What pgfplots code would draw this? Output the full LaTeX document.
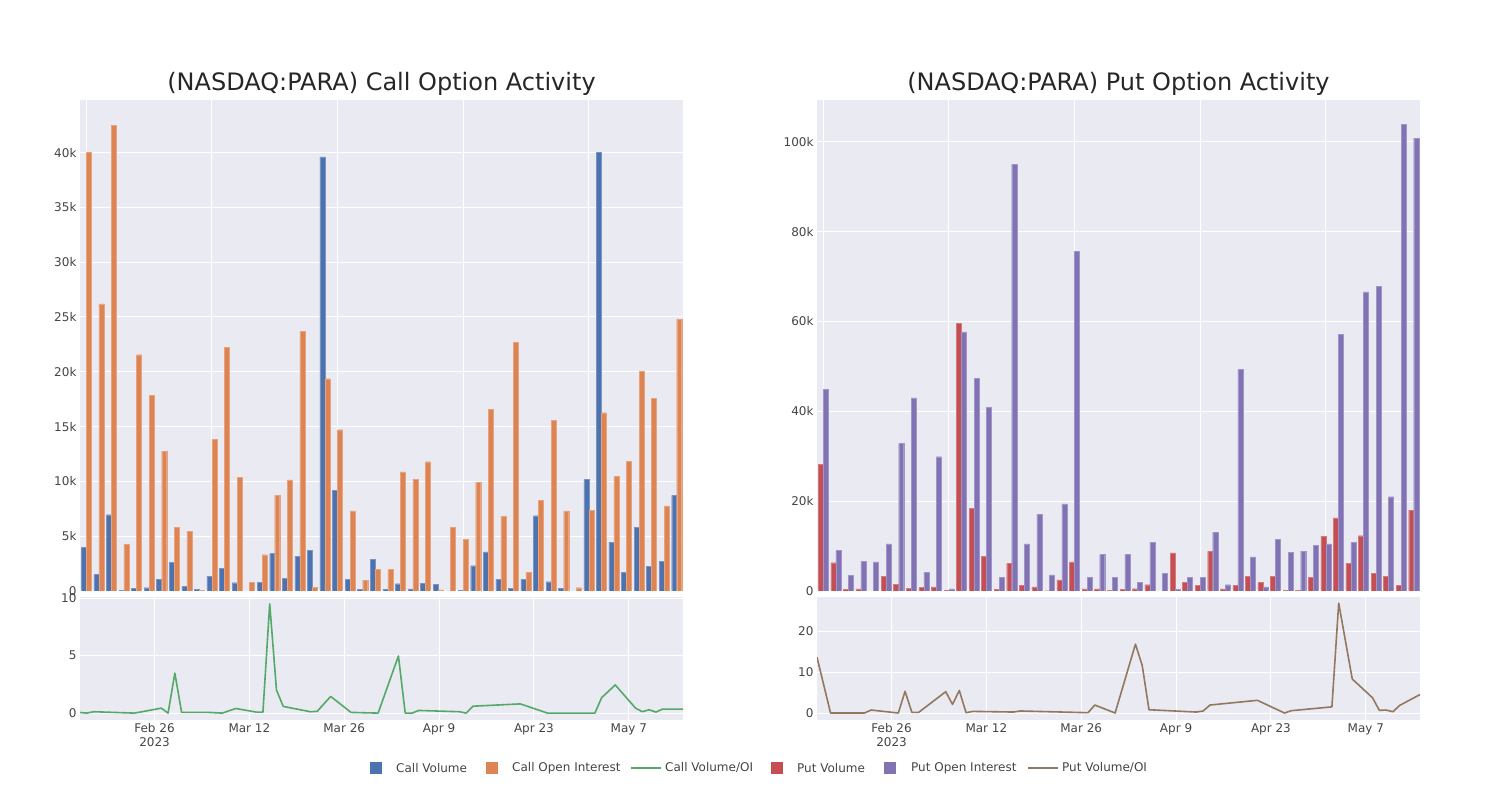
\documentclass[border=0pt]{standalone}
\usepackage{fontspec}
\setmainfont{DejaVu Sans}
\usepackage{pgfplots}
\pgfplotsset{compat=1.18}
\usepackage{pgfplotstable}

\definecolor{bg}{HTML}{EAEAF2}
\definecolor{cblue}{HTML}{4C72B0}
\definecolor{corange}{HTML}{DD8452}
\definecolor{cgreen}{HTML}{55A868}
\definecolor{cred}{HTML}{C44E52}
\definecolor{cpurple}{HTML}{8172B3}
\definecolor{cbrown}{HTML}{937860}
\definecolor{txt}{HTML}{444444}

% values in thousands
\pgfplotstableread{
i cv coi pv poi
0 4.0 40.05 28.2 44.9
1 1.52 26.2 6.3 9.0
2 6.96 42.5 0.3 3.5
3 0.05 4.23 0.45 6.6
4 0.25 21.56 0 6.5
5 0.3 17.85 3.3 10.5
6 1.06 12.77 1.5 32.8
7 2.59 5.78 0.6 43.0
8 0.4 5.44 0.75 4.2
9 0.15 0.05 0.9 29.9
10 1.34 13.84 0.15 0.45
11 2.07 22.26 59.6 57.7
12 0.76 10.4 18.4 47.3
13 0 0.82 7.7 40.9
14 0.82 3.31 0.3 3.0
15 3.41 8.73 6.1 95.0
16 1.13 10.13 1.26 10.5
17 3.19 23.69 0.9 17.1
18 3.71 0.36 0.07 3.6
19 39.6 19.37 2.45 19.4
20 9.18 14.72 6.5 75.6
21 1.06 7.3 0.45 3.1
22 0.15 0.97 0.45 8.1
23 2.89 1.98 0.15 3.1
24 0.15 1.95 0.37 8.1
25 0.67 10.86 0.5 1.9
26 0.2 10.19 1.4 10.9
27 0.7 11.8 0 4.0
28 0.6 0.1 8.5 0.37
29 0 5.78 2.0 3.0
30 0.06 4.74 1.26 3.1
31 2.31 9.91 8.8 13.1
32 3.56 16.6 0.45 1.4
33 1.09 6.84 1.2 49.3
34 0.27 22.7 3.3 7.6
35 1.09 1.73 1.9 0.9
36 6.87 8.3 3.3 11.5
37 0.85 15.57 0.15 8.6
38 0.27 7.3 0.15 8.9
39 0 0.3 3.0 10.1
40 10.16 7.39 12.2 10.5
41 40.0 16.27 16.3 57.1
42 4.47 10.49 6.1 10.8
43 1.73 11.83 12.3 66.6
44 5.81 20.04 3.9 67.8
45 2.28 17.58 3.3 21.0
46 2.71 7.76 1.26 103.9
47 8.73 24.79 18.0 100.8
}\bars

\pgfplotsset{
  base/.style={
    scale only axis, anchor=south west,
    axis background/.style={fill=bg},
    grid=major, major grid style={white, line width=1pt},
    axis line style={draw=none}, tick style={draw=none},
    ticklabel style={font=\fontsize{12}{14}\selectfont, text=txt},
    /pgf/number format/assume math mode=true,
  },
  upper/.style={base, width=603pt, height=491pt, xmin=-0.5, xmax=47.5, ymin=0,
    xtick={0,10,20,30,40}, xticklabels={}, ybar, bar width=0.4},
  lower/.style={base, width=603pt, height=123pt, xmin=-11, xmax=78,
    xtick={0,14,28,42,56,70},
    xticklabels={{Feb 26\\2023},{Mar 12},{Mar 26},{Apr 9},{Apr 23},{May 7}},
    xticklabel style={align=center}},
}

\begin{document}
\begin{tikzpicture}[x=1pt,y=1pt]
\useasboundingbox (0,0) rectangle (1500,800);

% ---------- Call panel ----------
\node[font=\fontsize{24}{28}\selectfont, text=black!85] at (381.5,716) {(NASDAQ:PARA) Call Option Activity};
\begin{axis}[upper, at={(80pt,209pt)}, ymax=44.8,
  ytick={0,5,10,15,20,25,30,35,40}, yticklabels={0,5k,10k,15k,20k,25k,30k,35k,40k}]
\addplot[fill=cblue, draw=cblue!75!white, line width=0.3pt, bar shift=-0.2] table[x=i,y=cv]{\bars};
\addplot[fill=corange, draw=corange!75!white, line width=0.3pt, bar shift=0.2] table[x=i,y=coi]{\bars};
\end{axis}
\begin{axis}[lower, at={(80pt,80pt)}, ymin=-0.6, ymax=10.1, ytick={0,5,10}]
\addplot[cgreen, line width=1.6pt, line join=round] coordinates {
(-11,0.05)(-10,0.0)(-9,0.12)(-3,0.0)(-2,0.1)(1,0.43)(2,0)(3,3.47)(4,0.06)(8,0.06)(10,0)(12,0.4)(15,0.09)(16,0.09)(17,9.5)(18,2.0)(19,0.58)(23,0.12)(24,0.15)(26,1.45)(29,0.06)(33,0)(36,4.97)(37,0)(38,0)(39,0.23)(45,0.12)(46,0)(47,0.6)(54,0.8)(58,0)(65,0)(66,1.35)(68,2.45)(71,0.43)(72,0.12)(73,0.29)(74,0.09)(75,0.35)(78,0.35)};
\end{axis}

% ---------- Put panel ----------
\node[font=\fontsize{24}{28}\selectfont, text=black!85] at (1118.5,716) {(NASDAQ:PARA) Put Option Activity};
\begin{axis}[upper, at={(817pt,209pt)}, ymax=109.3,
  ytick={0,20,40,60,80,100}, yticklabels={0,20k,40k,60k,80k,100k}]
\addplot[fill=cred, draw=cred!75!white, line width=0.3pt, bar shift=-0.2] table[x=i,y=pv]{\bars};
\addplot[fill=cpurple, draw=cpurple!75!white, line width=0.3pt, bar shift=0.2] table[x=i,y=poi]{\bars};
\end{axis}
\begin{axis}[lower, at={(817pt,80pt)}, ymin=-1.7, ymax=28.3, ytick={0,10,20}]
\addplot[cbrown, line width=1.6pt, line join=round] coordinates {
(-11,13.6)(-9,0)(-4,0)(-3,0.73)(1,0)(2,5.3)(3,0.16)(4,0.16)(8,5.2)(9,2.1)(10,5.5)(11,0.08)(12,0.4)(18,0.24)(19,0.5)(29,0.08)(30,1.95)(33,0)(36,16.8)(37,11.6)(38,0.8)(45,0.24)(46,0.5)(47,1.95)(54,3.1)(58,0)(59,0.57)(65,1.5)(66,26.8)(68,8.3)(71,3.7)(72,0.65)(73,0.73)(74,0.32)(75,1.86)(78,4.5)};
\end{axis}

% ---------- Legend ----------
\begin{scope}[every node/.style={font=\fontsize{12}{14}\selectfont, text=txt, anchor=west, inner sep=0pt}]
\fill[cblue] (370,26) rectangle (382,38); \node at (396,32) {Call Volume};
\fill[corange] (486,26) rectangle (498,38); \node at (512,32) {Call Open Interest};
\draw[cgreen, line width=1.6pt] (631,32) -- (661,32); \node at (665,32) {Call Volume/OI};
\fill[cred] (771,26) rectangle (783,38); \node at (797,32) {Put Volume};
\fill[cpurple] (884,26) rectangle (896,38); \node at (911,32) {Put Open Interest};
\draw[cbrown, line width=1.6pt] (1028,32) -- (1058,32); \node at (1062,32) {Put Volume/OI};
\end{scope}
\end{tikzpicture}
\end{document}
